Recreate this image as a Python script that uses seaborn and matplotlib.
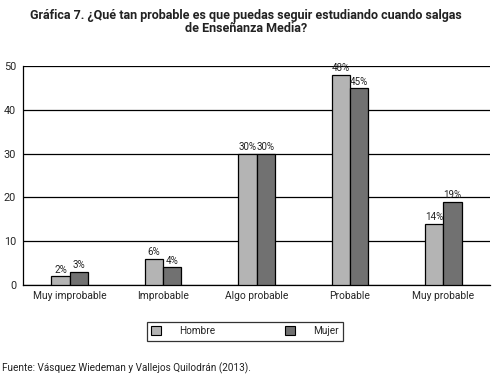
import matplotlib
matplotlib.use("Agg")
import matplotlib.pyplot as plt
import seaborn as sns
import pandas as pd
from matplotlib.patches import Patch

categories = ["Muy improbable", "Improbable", "Algo probable", "Probable", "Muy probable"]
hombre = [2, 6, 30, 48, 14]
mujer = [3, 4, 30, 45, 19]
series = ["Hombre", "Mujer"]
colors = ["#b4b4b4", "#717171"]
yticks = [0, 10, 20, 30, 40, 50]

sns.set_style("white")
plt.rcParams['font.family'] = ['Roboto', 'DejaVu Sans']

df = pd.DataFrame({
    "cat": categories * 2,
    "val": hombre + mujer,
    "sexo": [series[0]] * 5 + [series[1]] * 5,
})

fig = plt.figure(figsize=(4.93, 3.85), dpi=100)
ax = fig.add_axes([23/493, 1-285/385, (490-23)/493, (285-66)/385])
sns.barplot(data=df, x="cat", y="val", hue="sexo", palette=colors, width=0.39,
            edgecolor="black", linewidth=0.9, ax=ax, legend=False, zorder=3)

for cont in ax.containers:
    ax.bar_label(cont, labels=[f"{int(v)}%" for v in cont.datavalues], fontsize=7,
                 padding=1, color="#222222")

ax.set_xlim(-0.5, 4.5)
ax.set_ylim(0, 50)
ax.set_yticks(yticks)
ax.set_yticklabels([str(t) for t in yticks], fontsize=7.8)
ax.yaxis.grid(True, color="black", linewidth=0.9)
ax.set_axisbelow(True)
ax.set_xlabel("")
ax.set_ylabel("")
ax.tick_params(axis="x", which="major", length=0, labelsize=7.4, pad=4)
ax.set_xticks([i - 0.5 for i in range(6)], minor=True)
ax.tick_params(axis="x", which="minor", length=4, width=0.9, color="black", direction="out")
ax.tick_params(axis="y", length=3, width=0.9, color="black", direction="out", pad=2)
for s in ["top", "right"]:
    ax.spines[s].set_visible(False)
for s in ["left", "bottom"]:
    ax.spines[s].set_color("black")
    ax.spines[s].set_linewidth(0.9)

fig.text(246/493, 1-22/385, "Gráfica 7. ¿Qué tan probable es que puedas seguir estudiando cuando salgas\nde Enseñanza Media?",
         ha="center", va="center", fontsize=9, fontweight="bold", color="#222222", linespacing=1.0)

handles = [Patch(facecolor=c, edgecolor="black", linewidth=0.8) for c in colors]
leg = fig.legend(handles, series, loc="center", bbox_to_anchor=(245/493, 1-331/385), ncol=2,
                 fontsize=7.2, frameon=True, fancybox=False, edgecolor="black",
                 handlelength=1.0, handleheight=1.0, columnspacing=7, handletextpad=1.8,
                 borderpad=0.45)
leg.get_frame().set_linewidth(0.9)

fig.text(2/493, 1-368/385, "Fuente: Vásquez Wiedeman y Vallejos Quilodrán (2013).", fontsize=7.2,
         ha="left", va="center", color="#222222")

fig.savefig("out.png", dpi=100)
